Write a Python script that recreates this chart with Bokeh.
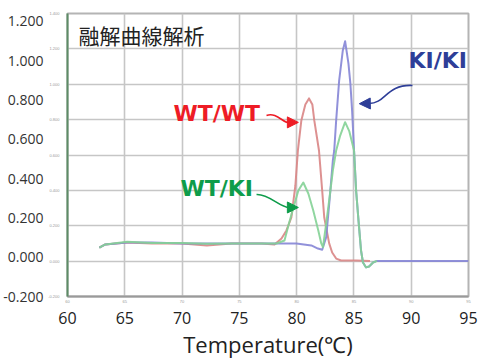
from bokeh.plotting import figure
from bokeh.models import (LinearAxis, FixedTicker, NumeralTickFormatter, Label,
                          Arrow, NormalHead)
from bokeh.embed import file_html
from bokeh.resources import INLINE

# ---- data (temperature °C, signal) ----
red_T = [62.78, 63.30, 65.21, 67.38, 69.99, 72.16, 74.33, 76.94, 78.07, 78.68, 79.11,
         79.54, 79.89, 80.11, 80.41, 80.76, 81.08, 81.37, 81.54, 81.95, 82.23, 82.41,
         82.84, 83.10, 83.45, 83.88, 85.19, 86.40]
red_v = [0.049, 0.065, 0.075, 0.070, 0.070, 0.060, 0.070, 0.070, 0.065, 0.095, 0.136,
         0.202, 0.365, 0.543, 0.696, 0.777, 0.808, 0.777, 0.696, 0.543, 0.339, 0.202,
         0.070, 0.024, -0.007, -0.017, -0.017, -0.019]

green_T = [62.78, 63.30, 65.21, 67.38, 69.99, 72.16, 74.33, 76.94, 78.24, 78.94, 79.28,
           79.72, 80.15, 80.58, 81.02, 81.45, 81.89, 82.15, 82.30, 82.58, 82.84, 83.16,
           83.45, 83.80, 84.23, 84.60, 85.01, 85.19, 85.42, 85.62, 85.79, 86.06, 86.32,
           86.67, 87.01]
green_v = [0.049, 0.065, 0.078, 0.072, 0.072, 0.068, 0.070, 0.070, 0.070, 0.085, 0.161,
           0.253, 0.339, 0.380, 0.324, 0.238, 0.136, 0.070, 0.051, 0.172, 0.289, 0.441,
           0.543, 0.619, 0.687, 0.640, 0.543, 0.339, 0.172, 0.034, -0.027, -0.052, -0.047,
           -0.027, -0.019]

blue_T = [62.78, 63.30, 65.21, 67.38, 69.99, 72.16, 74.33, 76.94, 79.98, 81.28, 81.86,
          82.23, 82.58, 82.87, 83.16, 83.28, 83.45, 83.71, 84.03, 84.23, 84.52, 84.69,
          84.84, 85.01, 85.19, 85.42, 85.62, 85.79, 86.06, 86.32, 86.67, 87.01, 89.10,
          95.00]
blue_v = [0.049, 0.065, 0.075, 0.075, 0.070, 0.070, 0.070, 0.070, 0.070, 0.060, 0.044,
          0.038, 0.102, 0.289, 0.492, 0.543, 0.696, 0.899, 1.052, 1.099, 0.986, 0.884,
          0.747, 0.543, 0.339, 0.172, 0.034, -0.027, -0.052, -0.047, -0.027, -0.019,
          -0.019, -0.019]

x_ticks = [60, 65, 70, 75, 80, 85, 90, 95]
y_ticks = [-0.2, 0.0, 0.2, 0.4, 0.6, 0.8, 1.0, 1.2]
grid_ticks = [-0.2, -0.02, 0.16, 0.34, 0.52, 0.70, 0.88, 1.06, 1.24]
grid_labels = ["-0.200", "0.000", "0.200", "0.400", "0.600", "0.800", "1.000",
               "1.200", "1.400"]

title_text = "融解曲線解析"
series_names = ["WT/WT", "KI/KI", "WT/KI"]
series_label_pos = [(73.03, 0.731), (92.31, 1.001), (73.03, 0.350)]
# arrows: start, control1, control2, line end, tip
arrow_red = [(77.37, 0.721), (78.24, 0.742), (78.94, 0.675), (79.37, 0.686), (80.15, 0.686)]
arrow_green = [(76.50, 0.319), (77.63, 0.322), (78.50, 0.253), (79.37, 0.253), (80.15, 0.253)]
arrow_blue = [(90.11, 0.874), (87.79, 0.880), (87.79, 0.782), (86.32, 0.782), (85.47, 0.781)]

RED, BLUE, GREEN = "#d98585", "#8585d6", "#84d296"
RED_T, BLUE_T, GREEN_T = "#ee1c25", "#2e3e98", "#0e9c4a"

p = figure(width=478, height=364, x_range=(60, 95), y_range=(-0.2, 1.24),
           output_backend="svg", toolbar_location=None,
           min_border_left=65, min_border_right=10, min_border_top=13,
           min_border_bottom=68)
p.background_fill_color = "white"
p.border_fill_color = "white"
p.outline_line_color = "#b4b4b4"
p.outline_line_width = 2

# grid
p.xgrid.ticker = FixedTicker(ticks=x_ticks)
p.ygrid.ticker = FixedTicker(ticks=grid_ticks)
for g in (p.xgrid[0], p.ygrid[0]):
    g.grid_line_color = "#c6c6c6"
    g.grid_line_width = 1.6

# tiny (original) axes next to the frame
ty = p.yaxis[0]
ty.ticker = FixedTicker(ticks=grid_ticks)
ty.major_label_overrides = {t: s for t, s in zip(grid_ticks, grid_labels)}
ty.major_label_text_font_size = "4px"
ty.major_label_text_color = "#9a9a9a"
ty.major_label_standoff = 8
ty.major_tick_out = 0
ty.major_tick_in = 0
ty.minor_tick_out = 0
ty.minor_tick_in = 0
ty.axis_line_color = "#5d8c66"
ty.axis_line_width = 2

tx = p.xaxis[0]
tx.ticker = FixedTicker(ticks=x_ticks)
tx.major_label_text_font_size = "4px"
tx.major_label_text_color = "#9a9a9a"
tx.major_label_standoff = 3
tx.major_tick_out = 0
tx.major_tick_in = 0
tx.minor_tick_out = 0
tx.minor_tick_in = 0
tx.axis_line_color = "#9a9a9a"
tx.axis_line_width = 2

# big overlay axes
by = LinearAxis(ticker=FixedTicker(ticks=y_ticks),
                formatter=NumeralTickFormatter(format="0.000"))
by.major_label_text_font = "Open Sans"
by.major_label_text_font_size = "14px"
by.major_label_text_color = "#333333"
by.major_label_standoff = 2
by.axis_line_color = None
by.major_tick_out = 0
by.major_tick_in = 0
by.minor_tick_out = 0
by.minor_tick_in = 0
p.add_layout(by, "left")

bx = LinearAxis(ticker=FixedTicker(ticks=x_ticks), axis_label="Temperature(℃)")
bx.major_label_text_font = "Open Sans"
bx.major_label_text_font_size = "16px"
bx.major_label_text_color = "#222222"
bx.major_label_standoff = 6
bx.axis_line_color = None
bx.major_tick_out = 0
bx.major_tick_in = 0
bx.minor_tick_out = 0
bx.minor_tick_in = 0
bx.axis_label_text_font = "Open Sans"
bx.axis_label_text_font_style = "normal"
bx.axis_label_text_font_size = "22px"
bx.axis_label_text_color = "#222222"
bx.axis_label_standoff = 2
p.add_layout(bx, "below")

# curves
p.line(red_T, red_v, line_color=RED, line_width=2, line_alpha=0.9, line_join="round")
p.line(blue_T, blue_v, line_color=BLUE, line_width=2, line_alpha=0.9, line_join="round")
p.line(green_T, green_v, line_color=GREEN, line_width=2, line_alpha=0.9, line_join="round")

# title text
p.add_layout(Label(x=60.96, y=1.133, text=title_text, text_font="Noto Sans CJK JP",
                   text_font_size="21px", text_color="#222222", text_baseline="middle",
                   text_align="left"))

for name, (lx, ly), col in zip(series_names, series_label_pos, [RED_T, BLUE_T, GREEN_T]):
    p.add_layout(Label(x=lx, y=ly, text=name, text_font="DejaVu Sans",
                       text_font_style="bold", text_font_size="22px", text_color=col,
                       text_align="center", text_baseline="middle"))

for pts, col in [(arrow_red, RED_T), (arrow_green, GREEN_T), (arrow_blue, BLUE_T)]:
    (x0, y0), (c0x, c0y), (c1x, c1y), (x1, y1), (tx_, ty_) = pts
    p.bezier(x0=[x0], y0=[y0], cx0=[c0x], cy0=[c0y], cx1=[c1x], cy1=[c1y],
             x1=[x1], y1=[y1], line_color=col, line_width=1.6)
    p.add_layout(Arrow(end=NormalHead(size=11, fill_color=col, line_color=col),
                       x_start=x1, y_start=y1, x_end=tx_, y_end=ty_,
                       line_color=col, line_width=1.6))

open("out.html", "w").write(file_html(p, INLINE))
